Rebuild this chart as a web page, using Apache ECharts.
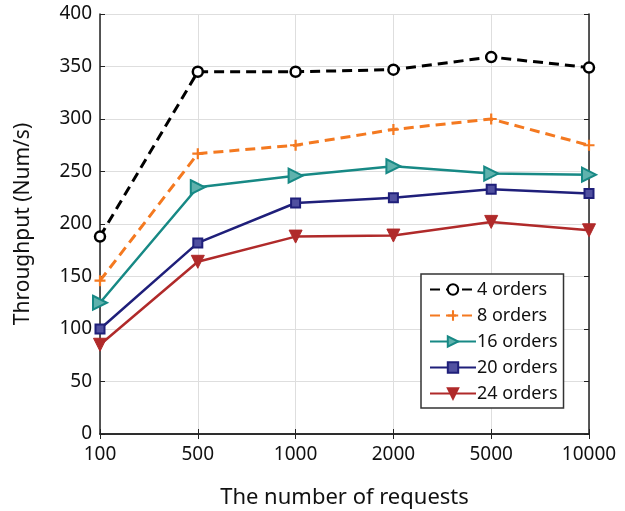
<!DOCTYPE html>
<html>
<head>
<meta charset="utf-8">
<script src="https://cdn.jsdelivr.net/npm/echarts@6/dist/echarts.min.js"></script>
<style>
  html, body { margin: 0; padding: 0; background: #fff; }
  #chart { width: 625px; height: 511px; }
</style>
</head>
<body>
<div id="chart"></div>
<script>
// 横轴类别（请求数）
const requests = ['100', '500', '1000', '2000', '5000', '10000']

// 各订单数下的吞吐量
const orders4 = [188, 345, 345, 347, 359, 349]
const orders8 = [146, 267, 275, 290, 300, 275]
const orders16 = [125, 235, 246, 255, 248, 247]
const orders20 = [100, 182, 220, 225, 233, 229]
const orders24 = [85, 164, 188, 189, 202, 194]

const seriesNames = ['4 orders', '8 orders', '16 orders', '20 orders', '24 orders']

const font = 'Noto Sans'
const chart = echarts.init(document.getElementById('chart'), null, { renderer: 'canvas' })

const triRight = 'path://M0,0 L10,5 L0,10 Z'

const option = {
  animation: false,
  backgroundColor: '#fff',
  grid: { left: 100, right: 36, top: 14, bottom: 77, outerBoundsMode: 'none' },
  legend: {
    orient: 'vertical',
    left: 421,
    top: 274,
    padding: [5, 6, 4, 8],
    itemGap: 5,
    itemWidth: 46,
    itemHeight: 13,
    backgroundColor: '#fff',
    borderColor: '#333',
    borderWidth: 1.5,
    borderRadius: 0,
    textStyle: { fontFamily: font, fontSize: 18, color: '#111', padding: [0, 0, 0, -4], lineHeight: 21 },
    data: seriesNames
  },
  xAxis: [{
    type: 'category',
    data: requests,
    boundaryGap: false,
    name: 'The number of requests',
    nameLocation: 'middle',
    nameGap: 53,
    nameTextStyle: { fontFamily: font, fontSize: 22, color: '#111' },
    axisLine: { lineStyle: { color: '#222', width: 1.5 } },
    axisTick: { inside: true, length: 5, lineStyle: { color: '#222' } },
    axisLabel: { fontFamily: font, fontSize: 19, color: '#111', margin: 11 },
    splitLine: { show: true, lineStyle: { color: '#dedede', width: 1 } }
  }, {
    type: 'category',
    data: requests,
    boundaryGap: false,
    position: 'top',
    axisLine: { lineStyle: { color: '#222', width: 1.5 } },
    axisTick: { inside: true, length: 5, lineStyle: { color: '#222' } },
    axisLabel: { show: false },
    splitLine: { show: false }
  }],
  yAxis: [{
    type: 'value',
    min: 0,
    max: 400,
    interval: 50,
    name: 'Throughput (Num/s)',
    nameLocation: 'middle',
    nameGap: 66,
    nameTextStyle: { fontFamily: font, fontSize: 21, color: '#111' },
    axisLine: { show: true, lineStyle: { color: '#222', width: 1.5 } },
    axisTick: { show: true, inside: true, length: 5, lineStyle: { color: '#222' } },
    axisLabel: { fontFamily: font, fontSize: 19, color: '#111', margin: 8 },
    splitLine: { show: true, lineStyle: { color: '#dedede', width: 1 } }
  }, {
    type: 'value',
    min: 0,
    max: 400,
    interval: 50,
    position: 'right',
    axisLine: { show: true, lineStyle: { color: '#222', width: 1.5 } },
    axisTick: { show: true, inside: true, length: 5, lineStyle: { color: '#222' } },
    axisLabel: { show: false },
    splitLine: { show: false }
  }],
  series: [
    {
      name: seriesNames[0], type: 'line', data: orders4,
      symbol: 'circle', symbolSize: 10,
      lineStyle: { color: '#000', width: 3, type: [10, 6] },
      itemStyle: { color: '#fff', borderColor: '#000', borderWidth: 2.5 },
      z: 5
    },
    {
      name: seriesNames[1], type: 'line', data: orders8,
      symbol: 'path://M4,0 L6,0 L6,4 L10,4 L10,6 L6,6 L6,10 L4,10 L4,6 L0,6 L0,4 L4,4 Z', symbolSize: 11,
      lineStyle: { color: '#f47920', width: 3, type: [10, 6] },
      itemStyle: { color: '#f47920', borderWidth: 0 },
      z: 4
    },
    {
      name: seriesNames[2], type: 'line', data: orders16,
      symbol: triRight, symbolSize: 14,
      lineStyle: { color: '#178985', width: 2.5 },
      itemStyle: { color: '#5fb2ad', borderColor: '#178985', borderWidth: 2 },
      z: 3
    },
    {
      name: seriesNames[3], type: 'line', data: orders20,
      symbol: 'rect', symbolSize: 9,
      lineStyle: { color: '#1f1f7a', width: 2.5 },
      itemStyle: { color: '#5050a0', borderColor: '#1f1f7a', borderWidth: 2 },
      z: 2
    },
    {
      name: seriesNames[4], type: 'line', data: orders24,
      symbol: 'triangle', symbolRotate: 180, symbolSize: 13,
      lineStyle: { color: '#b02a2a', width: 2.5 },
      itemStyle: { color: '#b02a2a', borderColor: '#b02a2a', borderWidth: 1 },
      z: 1
    }
  ]
}

chart.setOption(option)
</script>
</body>
</html>
